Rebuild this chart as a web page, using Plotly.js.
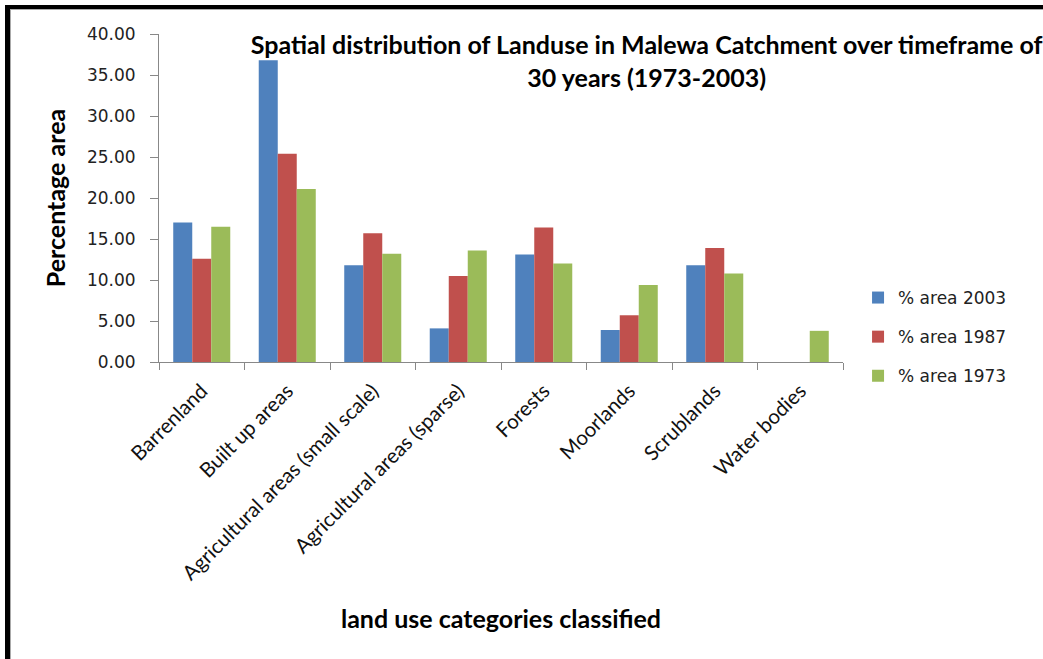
<!DOCTYPE html>
<html>
<head>
<meta charset="utf-8">
<script src="https://cdn.plot.ly/plotly-3.0.1.min.js"></script>
<style>
  html, body { margin: 0; padding: 0; background: #fff; }
  #wrap { position: relative; width: 1043px; height: 659px; overflow: hidden; }
  #chart { width: 1043px; height: 659px; }
  .bl { position: absolute; left: 5px; top: 5px; width: 5px; height: 654px; background: #000; pointer-events: none; }
  .bl2 { position: absolute; left: 10px; top: 9px; width: 1px; height: 650px; background: #aaa; pointer-events: none; }
  .bt { position: absolute; left: 5px; top: 5px; width: 1038px; height: 4px; background: #000; pointer-events: none; }
  .bt2 { position: absolute; left: 10px; top: 9px; width: 1033px; height: 1px; background: #aaa; pointer-events: none; }
</style>
</head>
<body>
<div id="wrap">
  <div id="chart"></div>
  <div class="bl"></div><div class="bl2"></div><div class="bt"></div><div class="bt2"></div>
</div>
<script>
const categories = ["Barrenland", "Built up areas", "Agricultural areas (small scale)", "Agricultural areas (sparse)", "Forests", "Moorlands", "Scrublands", "Water bodies"];
const area2003 = [17.0, 36.8, 11.8, 4.1, 13.1, 3.9, 11.8, 0];
const area1987 = [12.6, 25.4, 15.7, 10.5, 16.4, 5.7, 13.9, 0];
const area1973 = [16.5, 21.1, 13.2, 13.6, 12.0, 9.4, 10.8, 3.8];
const seriesNames = ["% area 2003", "% area 1987", "% area 1973"];
const seriesColors = ["#4F81BD", "#C0504D", "#9BBB59"];
const yTickVals = [0, 5, 10, 15, 20, 25, 30, 35, 40];
const yTickText = ["0.00", "5.00", "10.00", "15.00", "20.00", "25.00", "30.00", "35.00", "40.00"];

const allSeries = [area2003, area1987, area1973];
const data = allSeries.map((vals, i) => ({
  type: "bar",
  x: categories,
  y: vals,
  name: seriesNames[i],
  legendgroup: "g" + i,
  marker: { color: seriesColors[i], line: { width: 0 } },
  hoverinfo: "x+y+name"
}));

const layout = {
  width: 1043,
  height: 659,
  paper_bgcolor: "#ffffff",
  plot_bgcolor: "#ffffff",
  margin: { l: 159, r: 200, t: 34, b: 297 },
  barmode: "group",
  bargap: 0.333,
  bargroupgap: 0,
  title: {
    text: "<b>Spatial distribution of Landuse in Malewa Catchment over timeframe of</b><br><b>30 years (1973-2003)</b>",
    font: { family: "Lato, 'Open Sans', sans-serif", size: 25, color: "#000" },
    xref: "container", yref: "container",
    x: 0.62, xanchor: "center",
    y: 0.918, yanchor: "top"
  },
  xaxis: {
    type: "category",
    tickangle: -45,
    ticks: "outside",
    tickson: "boundaries",
    ticklen: 7,
    tickcolor: "#888",
    ticklabelstandoff: 8,
    showline: true,
    linecolor: "#888",
    linewidth: 1,
    showgrid: false,
    zeroline: false,
    tickfont: { family: "Lato, 'Open Sans', sans-serif", size: 20.5, color: "#111" },
    title: {
      text: "<b>land use categories classified</b>",
      font: { family: "Lato, 'Open Sans', sans-serif", size: 25, color: "#000" },
      standoff: 27
    }
  },
  yaxis: {
    range: [0, 40],
    tickvals: yTickVals,
    ticktext: yTickText,
    ticks: "outside",
    ticklen: 8,
    tickcolor: "#888",
    ticklabelstandoff: 11,
    showline: true,
    linecolor: "#888",
    linewidth: 1,
    showgrid: false,
    zeroline: false,
    tickfont: { family: "DejaVu Sans, sans-serif", size: 17, color: "#222" },
    title: {
      text: "<b>Percentage area</b>",
      font: { family: "Lato, 'Open Sans', sans-serif", size: 25, color: "#000" },
      standoff: 14
    }
  },
  legend: {
    x: 1.022, xanchor: "left",
    y: 0.25, yanchor: "top",
    font: { family: "DejaVu Sans, sans-serif", size: 17, color: "#222" },
    tracegroupgap: 14,
    bgcolor: "rgba(0,0,0,0)",
    borderwidth: 0
  },
  showlegend: true
};

Plotly.newPlot("chart", data, layout, { displayModeBar: false, staticPlot: true });
</script>
</body>
</html>
